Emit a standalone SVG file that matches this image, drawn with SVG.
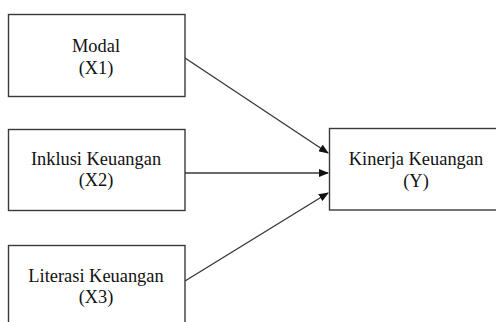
<svg xmlns="http://www.w3.org/2000/svg" width="496" height="322" viewBox="0 0 496 322">
<style>
.box{fill:#fff;stroke:#3a3a3a;stroke-width:1.4}
.t{font-family:"Liberation Serif","Times New Roman",serif;font-size:18.4px;fill:#111;text-anchor:middle}
.c{stroke:#3a3a3a;stroke-width:1.4;fill:none;marker-end:url(#ah)}
</style>
<defs>
<marker id="ah" markerWidth="10" markerHeight="8" refX="9" refY="4" orient="auto" markerUnits="userSpaceOnUse">
<path d="M0,0 L10,4 L0,8 Z" fill="#111"/>
</marker>
</defs>
<rect width="496" height="322" fill="#fff"/>
<g id="connectors">
<line class="c" x1="185" y1="58" x2="328" y2="153"/>
<line class="c" x1="185" y1="173" x2="328" y2="173"/>
<line class="c" x1="185" y1="281" x2="328" y2="193"/>
</g>
<g id="modal">
<rect class="box" x="8.5" y="14.5" width="176.5" height="82"/>
<text class="t" x="96" y="52">Modal</text>
<text class="t" x="96" y="74">(X1)</text>
</g>
<g id="inklusi">
<rect class="box" x="8.5" y="129.5" width="176.5" height="81"/>
<text class="t" x="96" y="165">Inklusi Keuangan</text>
<text class="t" x="96" y="186">(X2)</text>
</g>
<g id="literasi">
<rect class="box" x="8.5" y="245.5" width="176.5" height="90"/>
<text class="t" x="96" y="282">Literasi Keuangan</text>
<text class="t" x="96" y="303">(X3)</text>
</g>
<g id="kinerja">
<rect class="box" x="329.5" y="128.5" width="180" height="81.5"/>
<text class="t" x="416" y="165">Kinerja Keuangan</text>
<text class="t" x="416" y="187">(Y)</text>
</g>
</svg>
